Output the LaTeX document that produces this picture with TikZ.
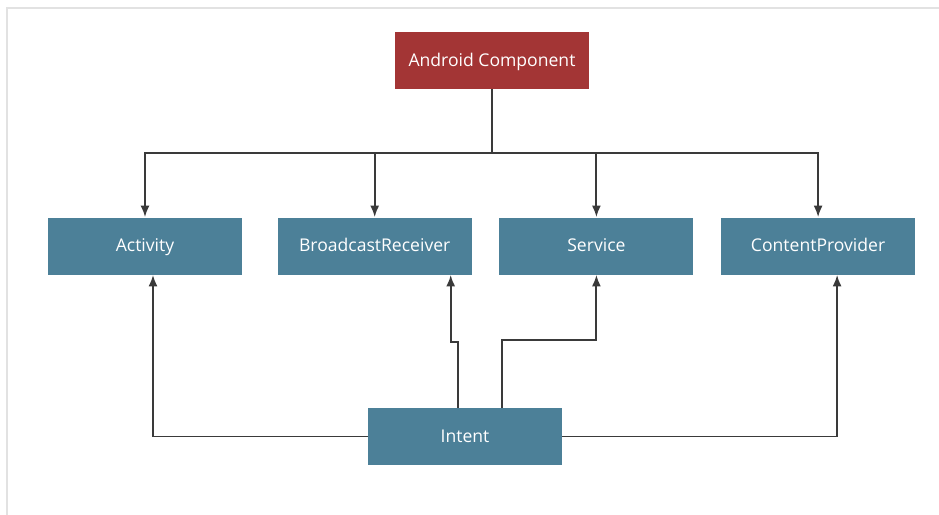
\documentclass[tikz,border=0pt]{standalone}
\usepackage{fontspec}
\setmainfont{Open Sans}
\usetikzlibrary{arrows.meta,positioning,calc}
\definecolor{boxred}{HTML}{A33535}
\definecolor{boxteal}{HTML}{4C8098}
\definecolor{linkgray}{HTML}{3A3A3A}
\definecolor{framegray}{HTML}{E2E2E2}

\begin{document}
\begin{tikzpicture}[node distance=0.54cm and 0.54cm,
    box/.style={fill=boxteal,text=white,minimum width=3.88cm,minimum height=1.14cm,align=center,
      font=\fontsize{10}{12}\selectfont,text height=1.6ex,text depth=0.35ex,inner sep=0pt},
    link/.style={draw=linkgray,line width=1.1pt},
    >={Latex[length=2.3mm,width=1.8mm]}]
    \useasboundingbox (0,0) rectangle (18.78,-10.30);
    \draw[framegray,line width=1.1pt] (0.14,-10.30) -- (0.14,-0.16) -- (18.78,-0.16);
    \node[box,fill=boxred] (comp) at (9.84,-1.21) {Android Component};
    \node[box] (act) at (2.90,-4.92) {Activity};
    \node[box,right=0.70cm of act] (recv) {BroadcastReceiver};
    \node[box,right=of recv] (serv) {Service};
    \node[box,right=of serv] (prov) {ContentProvider};
    \node[box] (intent) at (9.30,-8.73) {Intent};
    \coordinate (hub) at (9.84,-3.06);
    \draw[link] (comp.south) -- (hub);
    \draw[link,->] (hub) -| (act.north); \draw[link,->] (hub) -| (recv.north);
    \draw[link,->] (hub) -| (serv.north); \draw[link,->] (hub) -| (prov.north);
    \draw[link,->] (intent.west) -| ([xshift=0.16cm]act.south);
    \draw[link,->] (intent.east) -| ([xshift=0.38cm]prov.south);
    \draw[link,->] ([xshift=-0.14cm]intent.north) -- ++(0,1.32) -| ([xshift=1.52cm]recv.south);
    \draw[link,->] ([xshift=0.74cm]intent.north) -- ++(0,1.36) -| (serv.south);
  \end{tikzpicture}
\end{document}
